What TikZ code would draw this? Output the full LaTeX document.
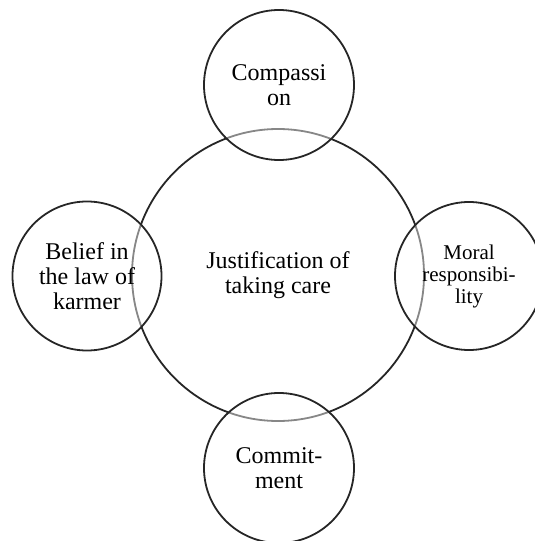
\documentclass[tikz,border=0pt]{standalone}
\usepackage{fontspec}
\setmainfont{Liberation Serif}
\begin{document}
\begin{tikzpicture}[x=1bp,y=-1bp,
  bubble/.style={circle, draw=black!85, line width=1.8bp, fill=white, fill opacity=0.45, text opacity=1, inner sep=0pt, align=center},
  bigfont/.style={font=\fontsize{24bp}{25bp}\selectfont},
  smallfont/.style={font=\fontsize{21bp}{22bp}\selectfont}]
\useasboundingbox (0,0) rectangle (535,541);
\node[bubble, bigfont, minimum size=292bp] (main) at (278,275) {Justification of\\taking care};
\node[bubble, bigfont, minimum size=150bp] (comp) at (279,85) {Compassi\\on};
\node[bubble, bigfont, minimum size=149bp] (belief) at (87,276) {Belief in\\the law of\\karmer};
\node[bubble, smallfont, minimum size=148bp] (moral) at (469,276) {Moral\\responsibi-\\lity};
\node[bubble, bigfont, minimum size=150bp] (commit) at (279,468) {Commit-\\ment};
\end{tikzpicture}
\end{document}
